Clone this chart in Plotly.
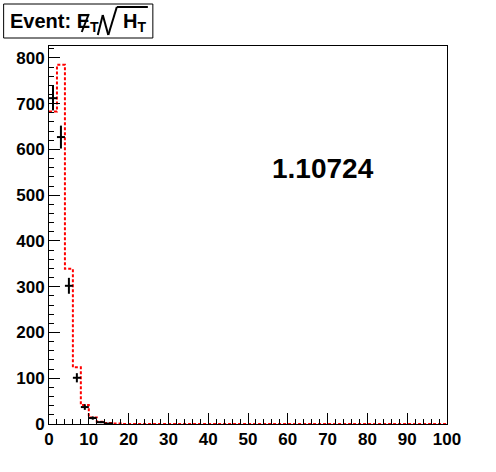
import numpy as np
import plotly.graph_objects as go

# Data: 50 bins of width 2 from 0 to 100
bin_edges = list(np.arange(0, 101, 2))
mc_values = [683, 785, 339, 124, 41.5, 14, 5, 2, 1] + [0] * 41
data_values = [712, 627, 302, 101, 37, 13, 4, 1] + [0] * 42
ratio_text = "1.10724"
x_ticks = list(range(0, 101, 10))
y_ticks = list(range(0, 801, 100))

W, H = 496, 472
L, R, T, B = 49.3, 446.7, 46, 424
pw, ph = R - L, B - T

def px(x):
    return (x - L) / pw

def py(y):
    return (B - y) / ph

fig = go.Figure()

# MC histogram (red dotted step)
step_x = bin_edges
step_y = mc_values + [mc_values[-1]]
fig.add_trace(go.Scatter(
    x=step_x, y=step_y, mode="lines", line_shape="hv",
    line=dict(color="#ff0000", width=2, dash="3px,2px"),
    hoverinfo="skip", showlegend=False))

# Data points with errors
centers = [(bin_edges[i] + bin_edges[i + 1]) / 2 for i in range(len(data_values))]
dx = [c for c, v in zip(centers, data_values) if v > 0]
dy = [v for v in data_values if v > 0]
derr = [float(np.sqrt(v)) for v in dy]
half = [(bin_edges[1] - bin_edges[0]) / 2] * len(dx)
fig.add_trace(go.Scatter(
    x=dx, y=dy, mode="markers",
    marker=dict(size=1, color="black"),
    error_y=dict(type="data", array=derr, color="black", thickness=2, width=0),
    error_x=dict(type="data", array=half, color="black", thickness=2, width=0),
    showlegend=False))

fig.add_annotation(x=68.9, y=558, xref="x", yref="y", text="<b>" + ratio_text + "</b>",
                   showarrow=False, font=dict(family="Liberation Sans", size=28, color="black"))

# Title box
fig.add_shape(type="rect", xref="paper", yref="paper",
              x0=px(4), x1=px(153), y0=py(38), y1=py(4),
              line=dict(color="black", width=1), fillcolor="white")
fig.add_annotation(x=px(8), y=py(23), xref="paper", yref="paper", xanchor="left", yanchor="middle",
                   text="<b>Event: E<sub>T</sub></b>",
                   showarrow=False, font=dict(family="Liberation Sans", size=20, color="black"))
fig.add_annotation(x=px(121), y=py(23), xref="paper", yref="paper", xanchor="left", yanchor="middle",
                   text="<b>H<sub>T</sub></b>",
                   showarrow=False, font=dict(family="Liberation Sans", size=20, color="black"))
# slash across E, division + radical strokes, overbar
title_lines = [((82, 32), (89, 14)),
               ((98, 35), (103, 15)),
               ((103, 15), (108.5, 35)),
               ((108.5, 35), (117, 7)),
               ((117, 7), (148, 7))]
for (x0, y0), (x1, y1) in title_lines:
    fig.add_shape(type="line", xref="paper", yref="paper",
                  x0=px(x0), x1=px(x1), y0=py(y0), y1=py(y1),
                  line=dict(color="black", width=2))

axis_common = dict(showline=True, linecolor="black", linewidth=1, mirror=True,
                   showgrid=False, zeroline=False, ticks="inside", ticklen=11,
                   tickcolor="black", tickwidth=1,
                   tickfont=dict(family="Liberation Sans", size=17, color="black", weight="bold"))

fig.update_xaxes(range=[0, 100], tickvals=x_ticks,
                 minor=dict(ticks="inside", ticklen=5, dtick=2, tickcolor="black", showgrid=False),
                 **axis_common)
fig.update_yaxes(range=[0, 826], tickvals=y_ticks,
                 minor=dict(ticks="inside", ticklen=5, dtick=20, tickcolor="black", showgrid=False),
                 **axis_common)

fig.update_layout(width=W, height=H, autosize=False,
                  margin=dict(l=L, r=W - R, t=T, b=H - B, pad=0),
                  paper_bgcolor="white", plot_bgcolor="white")

fig.write_html("out.html", config={"displayModeBar": False},
               post_script="document.body.style.margin='0';")
